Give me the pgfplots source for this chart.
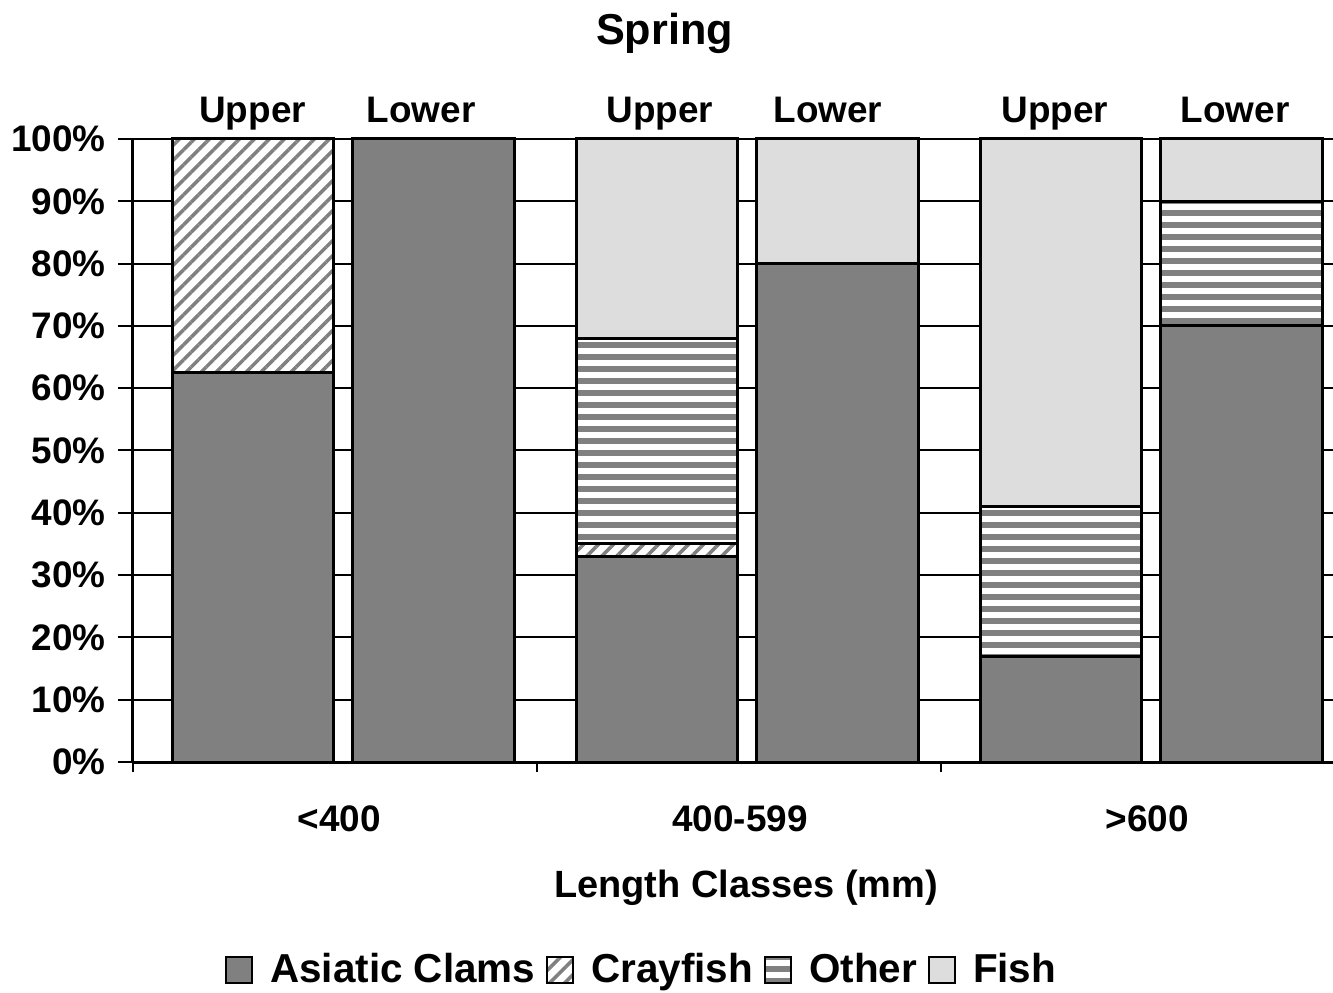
\documentclass[border=0pt]{standalone}
\usepackage{fontspec}
\setmainfont{Liberation Sans}
\usepackage{pgfplots}
\pgfplotsset{compat=1.18}
\usetikzlibrary{patterns.meta}
\definecolor{clam}{RGB}{128,128,128}
\definecolor{fishc}{RGB}{221,221,221}
\definecolor{hatch}{RGB}{128,128,128}
\pgfplotsset{sqleg/.style={legend image code/.code={\draw[##1,line width=0.2mm] (0mm,-1.3mm) rectangle (2.6mm,1.3mm);}}}
\begin{document}
\begin{tikzpicture}
\path[use as bounding box] (-13.3mm,-23.1mm) rectangle (120mm,76.2mm);
\begin{axis}[
  at={(0,0)}, anchor=south west,
  scale only axis, width=120mm, height=62.3mm,
  xmin=0, xmax=2.97, ymin=0, ymax=100,
  enlargelimits=false,
  ybar stacked, bar width=0.40,
  axis x line*=bottom, axis y line*=left,
  axis line style={line width=0.3mm},
  ytick={0,10,...,100},
  yticklabels={0\%,10\%,20\%,30\%,40\%,50\%,60\%,70\%,80\%,90\%,100\%},
  ymajorgrids, grid style={black,line width=0.2mm},
  tick align=outside, major tick length=1.5mm, minor tick length=1mm,
  tick style={black,line width=0.2mm},
  xtick={0.51,1.502,2.51}, xticklabels={<400,400-599,>600},
  minor xtick={0,1,2},
  major x tick style={draw=none},
  xticklabel style={anchor=base, yshift=-5.4mm},
  ticklabel style={font=\bfseries\fontsize{10.5}{12}\selectfont},
  clip=false,
  legend columns=-1,
  legend style={at={(0.426,-0.334)}, anchor=center, draw=none, fill=none,
    font=\bfseries\fontsize{11.5}{13}\selectfont,
    /tikz/every odd column/.append style={column sep=1.0mm},
    /tikz/every even column/.append style={column sep=0.4mm}},
]
\addplot[fill=clam, draw=black, line width=0.3mm, sqleg]
  coordinates {(0.297,62.5) (0.744,100) (1.297,33) (1.744,80) (2.297,17) (2.744,70)};
\addlegendentry{Asiatic Clams}
\addplot[fill=white, postaction={pattern={Lines[angle=45,distance=1.06mm,line width=0.35mm]}, pattern color=hatch}, draw=black, line width=0.3mm, sqleg]
  coordinates {(0.297,37.5) (0.744,0) (1.297,2) (1.744,0) (2.297,0) (2.744,0)};
\addlegendentry{Crayfish}
\addplot[fill=white, postaction={pattern={Lines[angle=0,distance=1.2mm,line width=0.6mm]}, pattern color=hatch}, draw=black, line width=0.3mm, sqleg]
  coordinates {(0.297,0) (0.744,0) (1.297,33) (1.744,0) (2.297,24) (2.744,20)};
\addlegendentry{Other}
\addplot[fill=fishc, draw=black, line width=0.3mm, sqleg]
  coordinates {(0.297,0) (0.744,0) (1.297,32) (1.744,20) (2.297,59) (2.744,10)};
\addlegendentry{Fish}
\node[font=\bfseries\fontsize{10.5}{12}\selectfont, anchor=base, yshift=1.6mm] at (axis cs:0.296,100) {Upper};
\node[font=\bfseries\fontsize{10.5}{12}\selectfont, anchor=base, yshift=1.6mm] at (axis cs:0.713,100) {Lower};
\node[font=\bfseries\fontsize{10.5}{12}\selectfont, anchor=base, yshift=1.6mm] at (axis cs:1.304,100) {Upper};
\node[font=\bfseries\fontsize{10.5}{12}\selectfont, anchor=base, yshift=1.6mm] at (axis cs:1.720,100) {Lower};
\node[font=\bfseries\fontsize{10.5}{12}\selectfont, anchor=base, yshift=1.6mm] at (axis cs:2.282,100) {Upper};
\node[font=\bfseries\fontsize{10.5}{12}\selectfont, anchor=base, yshift=1.6mm] at (axis cs:2.728,100) {Lower};
\node[font=\bfseries\fontsize{12.3}{14}\selectfont, anchor=base, yshift=9.4mm] at (rel axis cs:0.443,1) {Spring};
\node[font=\bfseries\fontsize{10.8}{13}\selectfont, anchor=base, yshift=-13.5mm] at (rel axis cs:0.511,0) {Length Classes (mm)};
\end{axis}
\end{tikzpicture}
\end{document}
